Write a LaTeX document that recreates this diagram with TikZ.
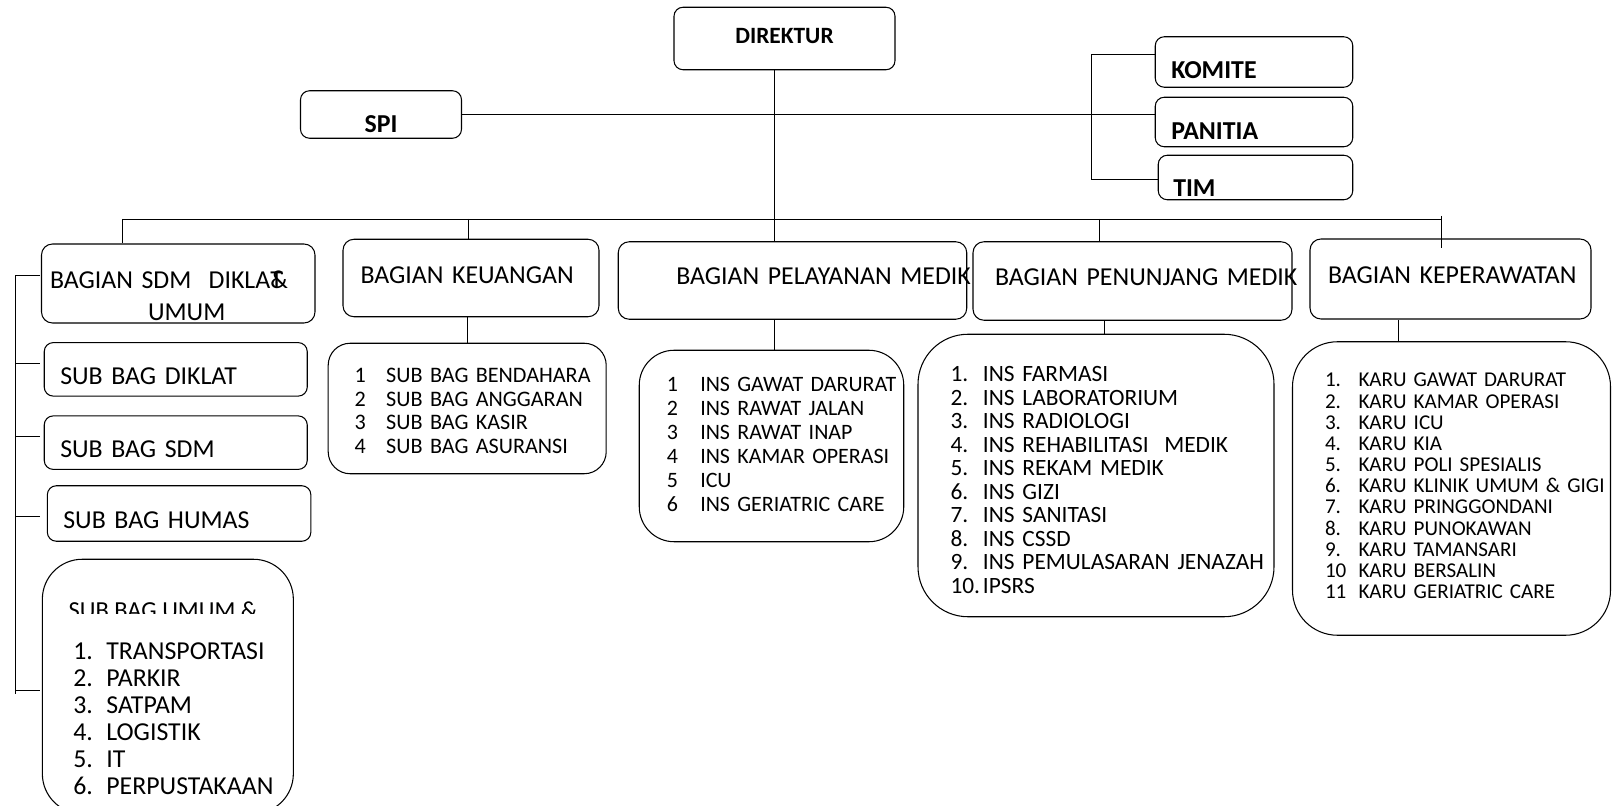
\documentclass[tikz,border=0pt]{standalone}
\usepackage{fontspec}
\setmainfont{Carlito}
\newlength{\kolom}
\newcommand{\baris}[2]{\mbox{\makebox[\kolom][l]{#1}#2}}
\tikzset{%
		garis/.style={line width=0.5pt},
		kotak/.style={draw,line width=0.6pt,rounded corners=0.18cm,align=left,inner ysep=0pt,
			text depth=0pt,font=\fontsize{14.7pt}{18.5pt}\selectfont},
		judul/.style={kotak,font=\fontsize{14.7pt}{18pt}\selectfont\bfseries},
		daftar/.style={kotak,execute at begin node={\setlength{\kolom}{#1}}}
	}

\begin{document}
\begin{tikzpicture}
      \useasboundingbox (0,0) rectangle (32.24,-16.12);

      % pimpinan
      \node[judul,align=center,font=\fontsize{13.3pt}{16pt}\selectfont\bfseries,text width=4.02cm,inner xsep=0.2cm,minimum height=1.25cm,text height=5.2pt] (direktur) at (15.69,-0.77) {DIREKTUR};
      \node[judul,align=center,text width=2.82cm,inner xsep=0.2cm,minimum height=0.95cm,text height=20.7pt] (spi) at (7.62,-2.29) {SPI};
      \node[judul,text width=3.31cm,inner xsep=0.32cm,minimum height=1.01cm,text height=18.6pt] (komite) at (25.08,-1.24) {KOMITE};
      \node[judul,text width=3.31cm,inner xsep=0.32cm,minimum height=0.99cm,text height=19.7pt] (panitia) at (25.08,-2.44) {PANITIA};
      \node[judul,text width=3.29cm,inner xsep=0.3cm,minimum height=0.89cm,text height=21.6pt] (tim) at (25.11,-3.55) {TIM};

      % bagian
      \node[kotak,rounded corners=0.22cm,text width=5.13cm,inner xsep=0.17cm,minimum height=1.58cm,text height=23.9pt,text depth=18.5pt] (bagsdm) at (3.565,-5.67) {BAGIAN SDM\ \ DIKLA\rlap{T}\&\\\hspace*{1.96cm}UMUM};
      \node[kotak,rounded corners=0.22cm,text width=4.42cm,inner xsep=0.35cm,minimum height=1.55cm,text height=6pt] (keuangan) at (9.42,-5.56) {BAGIAN KEUANGAN};
      \node[kotak,rounded corners=0.22cm,text width=4.65cm,inner xsep=1.16cm,minimum height=1.55cm,text height=5.1pt] (pelayanan) at (15.85,-5.61) {\mbox{BAGIAN PELAYANAN MEDIK}};
      \node[kotak,rounded corners=0.22cm,text width=5.5cm,inner xsep=0.44cm,minimum height=1.57cm,text height=4.8pt] (penunjang) at (22.65,-5.62) {\mbox{BAGIAN PENUNJANG MEDIK}};
      \node[kotak,rounded corners=0.22cm,text width=4.9cm,inner xsep=0.36cm,minimum height=1.6cm,text height=4.6pt] (keperawatan) at (29.01,-5.58) {\mbox{BAGIAN KEPERAWATAN}};

      % sub bagian sdm
      \node[kotak,text width=4.62cm,inner xsep=0.32cm,minimum height=1.07cm,text height=16.7pt] (subdiklat) at (3.515,-7.387) {SUB BAG DIKLAT};
      \node[kotak,text width=4.62cm,inner xsep=0.32cm,minimum height=1.07cm,text height=16.7pt] (subsdm) at (3.515,-8.853) {SUB BAG SDM};
      \node[kotak,text width=4.63cm,inner xsep=0.32cm,minimum height=1.11cm,text height=17.3pt] (subhumas) at (3.582,-10.27) {SUB BAG HUMAS};
      \node[daftar=0.66cm,rounded corners=0.8cm,font=\fontsize{14.7pt}{15.37pt}\selectfont,text width=3.78cm,inner xsep=0.62cm,minimum height=5.09cm,text height=46.5pt,text depth=76.8pt] (umumlist) at (3.357,-13.73)
        {\baris{1.}{TRANSPORTASI}\\\baris{2.}{PARKIR}\\\baris{3.}{SATPAM}\\\baris{4.}{LOGISTIK}\\\baris{5.}{IT}\\\baris{6.}{PERPUSTAKAAN}};
      \begin{scope}
        \clip (0.9,-11.9) rectangle (6,-12.266);
        \node[anchor=base west,inner sep=0pt,font=\fontsize{13.9pt}{17pt}\selectfont] (umumjudul) at (1.366,-12.38) {SUB BAG UMUM \&};
      \end{scope}

      % daftar unit
      \node[daftar=0.63cm,rounded corners=0.44cm,font=\fontsize{12.6pt}{13.6pt}\selectfont,text width=4.5cm,inner xsep=0.53cm,minimum height=2.61cm,text height=10.8pt,text depth=40.8pt] (keulist) at (9.344,-8.17)
        {\baris{1}{SUB BAG BENDAHARA}\\\baris{2}{SUB BAG ANGGARAN}\\\baris{3}{SUB BAG KASIR}\\\baris{4}{SUB BAG ASURANSI}};
      \node[daftar=0.67cm,rounded corners=0.7cm,font=\fontsize{12.5pt}{13.66pt}\selectfont,text width=4.19cm,inner xsep=0.55cm,minimum height=3.83cm,text height=6.7pt,text depth=68.3pt] (pellist) at (15.43,-8.92)
        {\baris{1}{INS GAWAT DARURAT}\\\baris{2}{INS RAWAT JALAN}\\\baris{3}{INS RAWAT INAP}\\\baris{4}{INS KAMAR OPERASI}\\\baris{5}{ICU}\\\baris{6}{INS GERIATRIC CARE}};
      \node[daftar=0.65cm,rounded corners=1cm,font=\fontsize{13.3pt}{13.37pt}\selectfont,text width=5.82cm,inner xsep=0.65cm,minimum height=5.65cm,text height=13.7pt,text depth=120.3pt] (penlist) at (21.92,-9.51)
        {\baris{1.}{INS FARMASI}\\\baris{2.}{INS LABORATORIUM}\\\baris{3.}{INS RADIOLOGI}\\\baris{4.}{INS REHABILITASI\ \ MEDIK}\\\baris{5.}{INS REKAM MEDIK}\\\baris{6.}{INS GIZI}\\\baris{7.}{INS SANITASI}\\\baris{8.}{INS CSSD}\\\baris{9.}{INS PEMULASARAN JENAZAH}\\\baris{10.}{IPSRS}};
      \node[daftar=0.67cm,rounded corners=0.9cm,font=\fontsize{12pt}{12.04pt}\selectfont,text width=5.06cm,inner xsep=0.65cm,minimum height=5.87cm,text height=4.8pt,text depth=120.4pt] (perlist) at (29.03,-9.77)
        {\baris{1.}{KARU GAWAT DARURAT}\\\baris{2.}{KARU KAMAR OPERASI}\\\baris{3.}{KARU ICU}\\\baris{4.}{KARU KIA}\\\baris{5.}{KARU POLI SPESIALIS}\\\baris{6.}{KARU KLINIK UMUM \& GIGI}\\\baris{7.}{KARU PRINGGONDANI}\\\baris{8.}{KARU PUNOKAWAN}\\\baris{9.}{KARU TAMANSARI}\\\baris{10}{KARU BERSALIN}\\\baris{11}{KARU GERIATRIC CARE}};

      % garis komando
      \coordinate (b1) at (2.44,-4.38);
      \coordinate (b2) at (9.36,-4.38);
      \coordinate (b3) at (15.49,-4.38);
      \coordinate (b4) at (21.98,-4.38);
      \coordinate (b5) at (28.82,-4.38);
      \coordinate (t4) at (22.09,-6.5);
      \coordinate (t5) at (27.97,-6.5);
      \draw[garis] (b1) -- (b5);
      \draw[garis] (b1) -- (b1 |- bagsdm.north);
      \draw[garis] (b2) -- (b2 |- keuangan.north);
      \draw[garis] (b4) -- (b4 |- penunjang.north);
      \draw[garis] (b5) ++(0,0.06) -- ++(0,-0.64);
      \draw[garis] (direktur.south -| b3) -- (b3 |- pelayanan.north);
      \draw[garis] (spi.east) -- (spi.east -| panitia.west);

      \coordinate (kurung) at (21.82,-3.58);
      \draw[garis] ([yshift=1.6mm]komite.west) -| (kurung) -- (kurung -| tim.west);

      \draw[garis] (keulist.north) -- (keulist.north |- keuangan.south);
      \draw[garis] (b3 |- pellist.north) -- (b3 |- pelayanan.south);
      \draw[garis] (t4 |- penlist.north) -- (t4 |- penunjang.south);
      \draw[garis] (t5 |- perlist.north) -- (t5 |- keperawatan.south);

      % sdm diklat & umum
      \coordinate (sdmatas) at (0.3,-5.51);
      \coordinate (sdmbawah) at (0.3,-13.88);
      \draw[garis] (sdmatas) -- (sdmbawah);
      \foreach \nama/\geser in {bagsdm/0.16,subdiklat/0.12,subsdm/0.12,subhumas/-0.06,umumlist/-0.07}
        \draw[garis] (sdmatas |- \nama.west) ++(0,\geser) -- ++(0.5,0);
\end{tikzpicture}
\end{document}
